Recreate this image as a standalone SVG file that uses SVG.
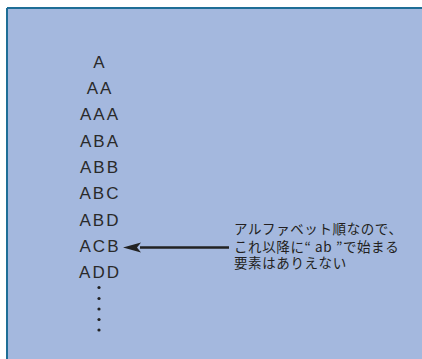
<svg xmlns="http://www.w3.org/2000/svg" width="422" height="359" viewBox="0 0 422 359">
<style>
.seq{font-family:"Liberation Sans",Arial,sans-serif;font-size:17px;fill:#2a2a2a;text-anchor:middle;letter-spacing:2px}
.note{font-family:"Noto Sans CJK JP","Liberation Sans",sans-serif;font-size:13.5px;fill:#231f20;letter-spacing:0.6px}
.dot{fill:#222}
</style>
<rect x="0" y="0" width="422" height="359" fill="#ffffff"/>
<rect x="7" y="8" width="415" height="351" fill="#a4b8de"/>
<line x1="7" y1="8" x2="422" y2="8" stroke="#1e6e96" stroke-width="2"/>
<line x1="7" y1="8" x2="7" y2="359" stroke="#1e6e96" stroke-width="2"/>
<g id="nodes">
<g id="n1"><text class="seq" x="100" y="68">A</text></g>
<g id="n2"><text class="seq" x="100" y="94">AA</text></g>
<g id="n3"><text class="seq" x="100" y="120">AAA</text></g>
<g id="n4"><text class="seq" x="100" y="146.5">ABA</text></g>
<g id="n5"><text class="seq" x="100" y="173">ABB</text></g>
<g id="n6"><text class="seq" x="100" y="199">ABC</text></g>
<g id="n7"><text class="seq" x="100" y="225.5">ABD</text></g>
<g id="n8"><text class="seq" x="100" y="252">ACB</text></g>
<g id="n9"><text class="seq" x="100" y="278">ADD</text></g>
<g id="dots">
<circle class="dot" cx="99" cy="287.5" r="1.6"/>
<circle class="dot" cx="99" cy="298.5" r="1.6"/>
<circle class="dot" cx="99" cy="309" r="1.6"/>
<circle class="dot" cx="99" cy="319.5" r="1.6"/>
<circle class="dot" cx="99" cy="330" r="1.6"/>
</g>
<g id="note">
<text class="note" x="234" y="234">アルファベット順なので、</text>
<text class="note" x="234" y="251.5" xml:space="preserve">これ以降に“ ab ”で始まる</text>
<text class="note" x="234" y="268">要素はありえない</text>
</g>
</g>
<g id="connectors">
<line x1="229" y1="247.5" x2="140" y2="247.5" stroke="#222" stroke-width="2.5"/>
<path d="M123,247.5 L141,242.5 L137,247.5 L141,252.5 Z" fill="#222"/>
</g>
</svg>
